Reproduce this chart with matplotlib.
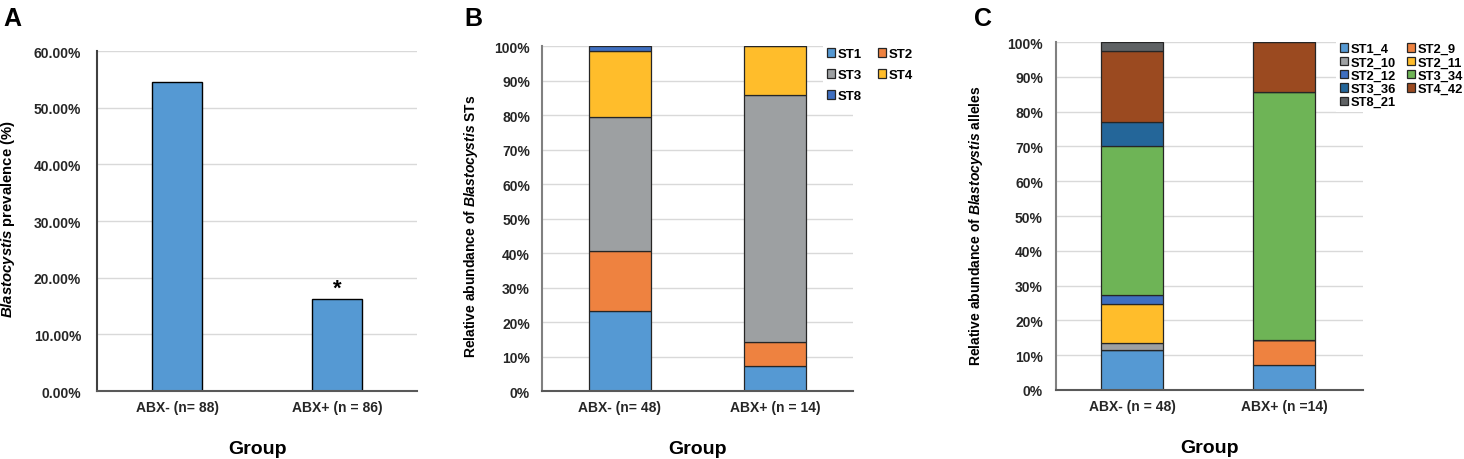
import numpy as np
import matplotlib
matplotlib.use("Agg")
import matplotlib.pyplot as plt
from matplotlib.ticker import FuncFormatter

plt.rcParams['font.family'] = ['Liberation Sans', 'DejaVu Sans']
plt.rcParams['mathtext.fontset'] = 'custom'
plt.rcParams['mathtext.it'] = 'Liberation Sans:italic:bold'
plt.rcParams['mathtext.rm'] = 'Liberation Sans:bold'

# panel A - prevalence
groups_a = ['ABX- (n= 88)', 'ABX+ (n = 86)']
prevalence = [54.55, 16.28]

# panel B - subtypes (% of positives)
groups_b = ['ABX- (n= 48)', 'ABX+ (n = 14)']
st_names = ['ST1', 'ST2', 'ST3', 'ST4', 'ST8']
st_values = {
    'ST1': [23.2, 7.14],
    'ST2': [17.4, 7.14],
    'ST3': [38.9, 71.43],
    'ST4': [19.0, 14.29],
    'ST8': [1.5, 0.0],
}
st_colors = ['#5599D3', '#EE8240', '#9DA0A2', '#FFBD2B', '#3F6FC0']

# panel C - alleles
groups_c = ['ABX- (n = 48)', 'ABX+ (n =14)']
al_names = ['ST1_4', 'ST2_9', 'ST2_10', 'ST2_11', 'ST2_12', 'ST3_34', 'ST3_36', 'ST4_42', 'ST8_21']
al_values = {
    'ST1_4': [11.4, 7.14],
    'ST2_9': [0.0, 7.14],
    'ST2_10': [2.2, 0.0],
    'ST2_11': [11.1, 0.0],
    'ST2_12': [2.6, 0.0],
    'ST3_34': [42.9, 71.43],
    'ST3_36': [6.9, 0.0],
    'ST4_42': [20.4, 14.29],
    'ST8_21': [2.5, 0.0],
}
al_colors = ['#5599D3', '#EE8240', '#9DA0A2', '#FFBD2B', '#3F6FC0',
             '#6EB456', '#246699', '#9B4A20', '#5F6264']

fig = plt.figure(figsize=(14.64, 4.6), dpi=100)
axA = fig.add_axes([0.0663, 0.1478, 0.2186, 0.739])
axB = fig.add_axes([0.3702, 0.1478, 0.2124, 0.750])
axC = fig.add_axes([0.7213, 0.15, 0.2097, 0.7565])


def style(ax, left_col, ypad):
    for s in ['top', 'right']:
        ax.spines[s].set_visible(False)
    ax.spines['left'].set_color(left_col)
    ax.spines['left'].set_linewidth(1.5)
    ax.spines['bottom'].set_color('#595959')
    ax.spines['bottom'].set_linewidth(1.5)
    ax.grid(axis='y', color='#D9D9D9', linewidth=1)
    ax.set_axisbelow(True)
    ax.tick_params(axis='both', length=0, labelsize=10, colors='#262626')
    ax.tick_params(axis='y', pad=ypad)
    ax.tick_params(axis='x', pad=6.5)
    for lab in ax.get_xticklabels() + ax.get_yticklabels():
        lab.set_fontweight('bold')
    ax.set_xlabel('Group', fontsize=14, fontweight='bold', labelpad=19)


# ---- A ----
x = np.arange(len(groups_a))
axA.bar(x, [v / 100 for v in prevalence], width=0.31, color='#5599D3', edgecolor='black', linewidth=1)
axA.set_xlim(-0.5, 1.5)
axA.set_ylim(0, 0.6)
axA.set_yticks(np.arange(0, 0.61, 0.1))
axA.yaxis.set_major_formatter(FuncFormatter(lambda v, p: f'{v*100:.2f}%'))
axA.set_xticks(x)
axA.set_xticklabels(groups_a)
style(axA, '#404040', 11.5)
axA.text(1, prevalence[1] / 100, '*', ha='center', va='bottom', fontsize=16, fontweight='bold')
axA.set_ylabel(r'$\it{Blastocystis}$ prevalence (%)', fontsize=10.7, fontweight='bold')
axA.yaxis.set_label_coords(-0.25, 0.51)


def stacked(ax, names, values, colors, groups, width):
    xs = np.arange(len(groups))
    bottom = np.zeros(len(groups))
    handles = {}
    for name, col in zip(names, colors):
        vals = np.array(values[name]) / 100
        h = ax.bar(xs, vals, bottom=bottom, width=width, color=col,
                   edgecolor='#262626', linewidth=0.9, label=name)
        handles[name] = h
        bottom += vals
    ax.set_ylim(0, 1)
    ax.set_yticks(np.arange(0, 1.01, 0.1))
    ax.yaxis.set_major_formatter(FuncFormatter(lambda v, p: f'{v*100:.0f}%'))
    ax.set_xticks(xs)
    ax.set_xticklabels(groups)
    return handles


# ---- B ----
hb = stacked(axB, st_names, st_values, st_colors, groups_b, 0.40)
axB.set_xlim(-0.5, 1.5)
style(axB, '#808080', 8.6)
axB.set_ylabel(r'Relative abundance of $\it{Blastocystis}$ STs', fontsize=10, fontweight='bold')
axB.yaxis.set_label_coords(-0.2, 0.48)
order_b = ['ST1', 'ST3', 'ST8', 'ST2', 'ST4']
legB = axB.legend([hb[n] for n in order_b], order_b, ncol=2, loc='upper left',
                  bbox_to_anchor=(0.904, 1.005), frameon=True, facecolor='white',
                  edgecolor='none', framealpha=1, fancybox=False, borderpad=0.3,
                  borderaxespad=0, handlelength=0.6, handleheight=0.6,
                  handletextpad=0.2, labelspacing=0.68, columnspacing=1.2,
                  prop={'size': 9.5, 'weight': 'bold'})

# ---- C ----
hc = stacked(axC, al_names, al_values, al_colors, groups_c, 0.41)
axC.set_xlim(-0.5, 1.52)
style(axC, '#808080', 9.4)
axC.set_ylabel(r'Relative abundance of $\it{Blastocystis}$ alleles', fontsize=10, fontweight='bold')
axC.yaxis.set_label_coords(-0.231, 0.474)
order_c = ['ST1_4', 'ST2_10', 'ST2_12', 'ST3_36', 'ST8_21', 'ST2_9', 'ST2_11', 'ST3_34', 'ST4_42']
legC = axC.legend([hc[n] for n in order_c], order_c, ncol=2, loc='upper left',
                  bbox_to_anchor=(0.913, 1.008), frameon=True, facecolor='white',
                  edgecolor='none', framealpha=1, fancybox=False, borderpad=0.3,
                  borderaxespad=0, handlelength=0.6, handleheight=0.6,
                  handletextpad=0.2, labelspacing=0.1, columnspacing=0.9,
                  prop={'size': 9.3, 'weight': 'bold'})

# panel letters
fig.text(0.002, 0.985, 'A', fontsize=18, fontweight='bold', va='top')
fig.text(0.317, 0.985, 'B', fontsize=18, fontweight='bold', va='top')
fig.text(0.665, 0.985, 'C', fontsize=18, fontweight='bold', va='top')

fig.savefig('out.png', dpi=100)
